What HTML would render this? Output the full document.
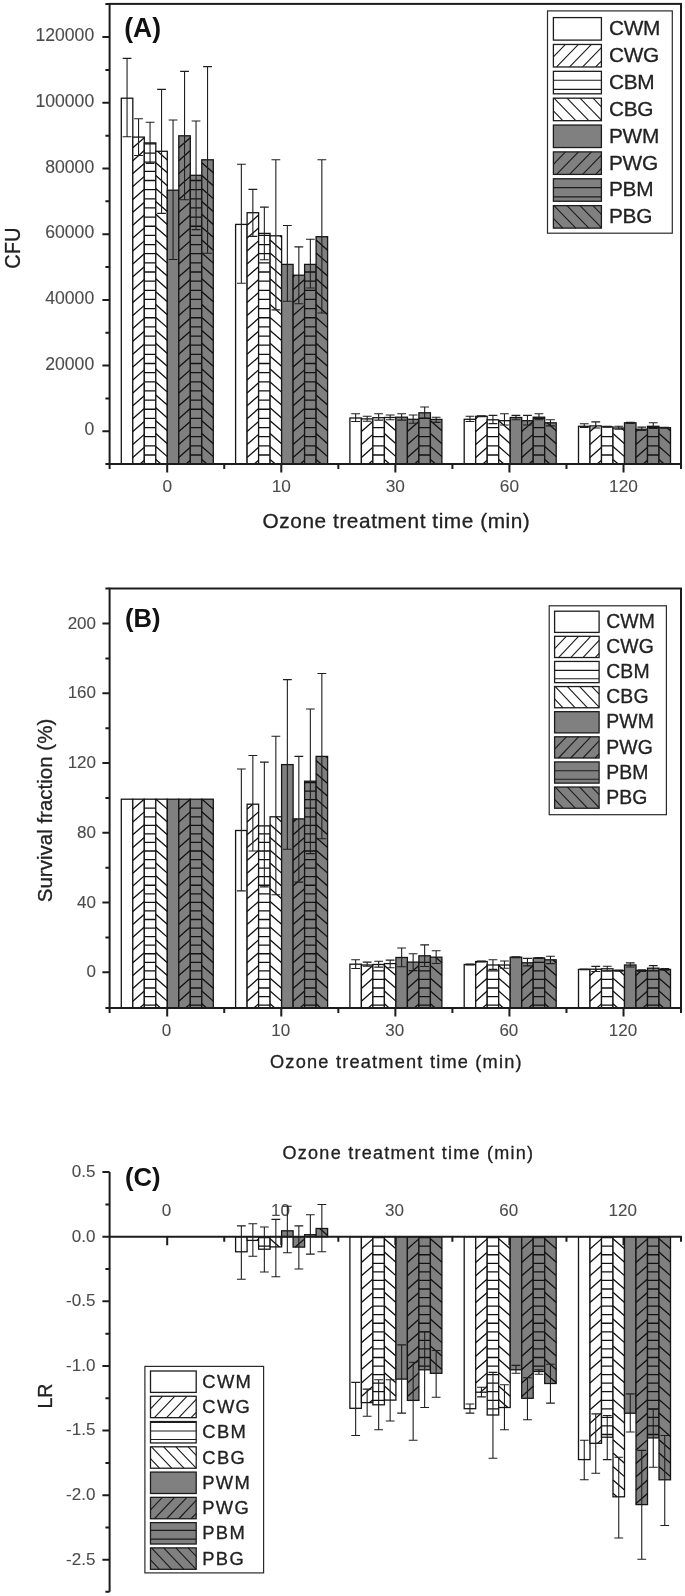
<!DOCTYPE html>
<html><head><meta charset="utf-8"><title>chart</title>
<style>html,body{margin:0;padding:0;background:#fff}svg{display:block;filter:blur(0.45px)}text{font-family:"Liberation Sans", sans-serif;stroke-linejoin:round}</style>
</head><body>
<svg width="685" height="1596" viewBox="0 0 685 1596">
<rect width="685" height="1596" fill="#fff"/>
<rect x="121.30" y="98.20" width="11.50" height="365.80" fill="#fff" stroke="#151515" stroke-width="1.3"/>
<rect x="132.80" y="137.10" width="11.50" height="326.90" fill="#fff" stroke="#151515" stroke-width="1.3"/>
<path d="M132.80 147.80L144.30 137.68M132.80 160.70L144.30 150.58M132.80 173.60L144.30 163.48M132.80 186.50L144.30 176.38M132.80 199.40L144.30 189.28M132.80 212.30L144.30 202.18M132.80 225.20L144.30 215.08M132.80 238.10L144.30 227.98M132.80 251.00L144.30 240.88M132.80 263.90L144.30 253.78M132.80 276.80L144.30 266.68M132.80 289.70L144.30 279.58M132.80 302.60L144.30 292.48M132.80 315.50L144.30 305.38M132.80 328.40L144.30 318.28M132.80 341.30L144.30 331.18M132.80 354.20L144.30 344.08M132.80 367.10L144.30 356.98M132.80 380.00L144.30 369.88M132.80 392.90L144.30 382.78M132.80 405.80L144.30 395.68M132.80 418.70L144.30 408.58M132.80 431.60L144.30 421.48M132.80 444.50L144.30 434.38M132.80 457.40L144.30 447.28M139.96 464.00L144.30 460.18" stroke="#111" stroke-width="1.3" fill="none"/>
<rect x="144.30" y="142.90" width="11.50" height="321.10" fill="#fff" stroke="#151515" stroke-width="1.3"/>
<path d="M144.30 143.90H155.80M144.30 153.05H155.80M144.30 162.20H155.80M144.30 171.35H155.80M144.30 180.50H155.80M144.30 189.65H155.80M144.30 198.80H155.80M144.30 207.95H155.80M144.30 217.10H155.80M144.30 226.25H155.80M144.30 235.40H155.80M144.30 244.55H155.80M144.30 253.70H155.80M144.30 262.85H155.80M144.30 272.00H155.80M144.30 281.15H155.80M144.30 290.30H155.80M144.30 299.45H155.80M144.30 308.60H155.80M144.30 317.75H155.80M144.30 326.90H155.80M144.30 336.05H155.80M144.30 345.20H155.80M144.30 354.35H155.80M144.30 363.50H155.80M144.30 372.65H155.80M144.30 381.80H155.80M144.30 390.95H155.80M144.30 400.10H155.80M144.30 409.25H155.80M144.30 418.40H155.80M144.30 427.55H155.80M144.30 436.70H155.80M144.30 445.85H155.80M144.30 455.00H155.80" stroke="#111" stroke-width="1.3" fill="none"/>
<rect x="155.80" y="151.30" width="11.50" height="312.70" fill="#fff" stroke="#151515" stroke-width="1.3"/>
<path d="M157.50 151.30L167.30 159.92M155.80 162.70L167.30 172.82M155.80 175.60L167.30 185.72M155.80 188.50L167.30 198.62M155.80 201.40L167.30 211.52M155.80 214.30L167.30 224.42M155.80 227.20L167.30 237.32M155.80 240.10L167.30 250.22M155.80 253.00L167.30 263.12M155.80 265.90L167.30 276.02M155.80 278.80L167.30 288.92M155.80 291.70L167.30 301.82M155.80 304.60L167.30 314.72M155.80 317.50L167.30 327.62M155.80 330.40L167.30 340.52M155.80 343.30L167.30 353.42M155.80 356.20L167.30 366.32M155.80 369.10L167.30 379.22M155.80 382.00L167.30 392.12M155.80 394.90L167.30 405.02M155.80 407.80L167.30 417.92M155.80 420.70L167.30 430.82M155.80 433.60L167.30 443.72M155.80 446.50L167.30 456.62M155.80 459.40L161.03 464.00" stroke="#111" stroke-width="1.3" fill="none"/>
<rect x="167.30" y="190.20" width="11.50" height="273.80" fill="#808080" stroke="#151515" stroke-width="1.3"/>
<rect x="178.80" y="135.80" width="11.50" height="328.20" fill="#808080" stroke="#151515" stroke-width="1.3"/>
<path d="M178.80 147.80L190.30 137.68M178.80 160.70L190.30 150.58M178.80 173.60L190.30 163.48M178.80 186.50L190.30 176.38M178.80 199.40L190.30 189.28M178.80 212.30L190.30 202.18M178.80 225.20L190.30 215.08M178.80 238.10L190.30 227.98M178.80 251.00L190.30 240.88M178.80 263.90L190.30 253.78M178.80 276.80L190.30 266.68M178.80 289.70L190.30 279.58M178.80 302.60L190.30 292.48M178.80 315.50L190.30 305.38M178.80 328.40L190.30 318.28M178.80 341.30L190.30 331.18M178.80 354.20L190.30 344.08M178.80 367.10L190.30 356.98M178.80 380.00L190.30 369.88M178.80 392.90L190.30 382.78M178.80 405.80L190.30 395.68M178.80 418.70L190.30 408.58M178.80 431.60L190.30 421.48M178.80 444.50L190.30 434.38M178.80 457.40L190.30 447.28M185.96 464.00L190.30 460.18" stroke="#111" stroke-width="1.3" fill="none"/>
<rect x="190.30" y="175.30" width="11.50" height="288.70" fill="#808080" stroke="#151515" stroke-width="1.3"/>
<path d="M190.30 180.50H201.80M190.30 189.65H201.80M190.30 198.80H201.80M190.30 207.95H201.80M190.30 217.10H201.80M190.30 226.25H201.80M190.30 235.40H201.80M190.30 244.55H201.80M190.30 253.70H201.80M190.30 262.85H201.80M190.30 272.00H201.80M190.30 281.15H201.80M190.30 290.30H201.80M190.30 299.45H201.80M190.30 308.60H201.80M190.30 317.75H201.80M190.30 326.90H201.80M190.30 336.05H201.80M190.30 345.20H201.80M190.30 354.35H201.80M190.30 363.50H201.80M190.30 372.65H201.80M190.30 381.80H201.80M190.30 390.95H201.80M190.30 400.10H201.80M190.30 409.25H201.80M190.30 418.40H201.80M190.30 427.55H201.80M190.30 436.70H201.80M190.30 445.85H201.80M190.30 455.00H201.80" stroke="#111" stroke-width="1.3" fill="none"/>
<rect x="201.80" y="159.80" width="11.50" height="304.20" fill="#808080" stroke="#151515" stroke-width="1.3"/>
<path d="M201.80 162.70L213.30 172.82M201.80 175.60L213.30 185.72M201.80 188.50L213.30 198.62M201.80 201.40L213.30 211.52M201.80 214.30L213.30 224.42M201.80 227.20L213.30 237.32M201.80 240.10L213.30 250.22M201.80 253.00L213.30 263.12M201.80 265.90L213.30 276.02M201.80 278.80L213.30 288.92M201.80 291.70L213.30 301.82M201.80 304.60L213.30 314.72M201.80 317.50L213.30 327.62M201.80 330.40L213.30 340.52M201.80 343.30L213.30 353.42M201.80 356.20L213.30 366.32M201.80 369.10L213.30 379.22M201.80 382.00L213.30 392.12M201.80 394.90L213.30 405.02M201.80 407.80L213.30 417.92M201.80 420.70L213.30 430.82M201.80 433.60L213.30 443.72M201.80 446.50L213.30 456.62M201.80 459.40L207.03 464.00" stroke="#111" stroke-width="1.3" fill="none"/>
<path d="M127.05 58.40V136.70M122.65 58.40h8.8M122.65 136.70h8.8" stroke="#1e1e1e" stroke-width="1.1" fill="none"/>
<path d="M138.55 118.70V155.50M134.15 118.70h8.8M134.15 155.50h8.8" stroke="#1e1e1e" stroke-width="1.1" fill="none"/>
<path d="M150.05 122.20V163.50M145.65 122.20h8.8M145.65 163.50h8.8" stroke="#1e1e1e" stroke-width="1.1" fill="none"/>
<path d="M161.55 89.40V213.40M157.15 89.40h8.8M157.15 213.40h8.8" stroke="#1e1e1e" stroke-width="1.1" fill="none"/>
<path d="M173.05 120.00V259.50M168.65 120.00h8.8M168.65 259.50h8.8" stroke="#1e1e1e" stroke-width="1.1" fill="none"/>
<path d="M184.55 71.40V199.80M180.15 71.40h8.8M180.15 199.80h8.8" stroke="#1e1e1e" stroke-width="1.1" fill="none"/>
<path d="M196.05 121.00V229.60M191.65 121.00h8.8M191.65 229.60h8.8" stroke="#1e1e1e" stroke-width="1.1" fill="none"/>
<path d="M207.55 66.60V253.20M203.15 66.60h8.8M203.15 253.20h8.8" stroke="#1e1e1e" stroke-width="1.1" fill="none"/>
<rect x="235.60" y="224.40" width="11.50" height="239.60" fill="#fff" stroke="#151515" stroke-width="1.3"/>
<rect x="247.10" y="212.70" width="11.50" height="251.30" fill="#fff" stroke="#151515" stroke-width="1.3"/>
<path d="M247.10 225.20L258.60 215.08M247.10 238.10L258.60 227.98M247.10 251.00L258.60 240.88M247.10 263.90L258.60 253.78M247.10 276.80L258.60 266.68M247.10 289.70L258.60 279.58M247.10 302.60L258.60 292.48M247.10 315.50L258.60 305.38M247.10 328.40L258.60 318.28M247.10 341.30L258.60 331.18M247.10 354.20L258.60 344.08M247.10 367.10L258.60 356.98M247.10 380.00L258.60 369.88M247.10 392.90L258.60 382.78M247.10 405.80L258.60 395.68M247.10 418.70L258.60 408.58M247.10 431.60L258.60 421.48M247.10 444.50L258.60 434.38M247.10 457.40L258.60 447.28M254.26 464.00L258.60 460.18" stroke="#111" stroke-width="1.3" fill="none"/>
<rect x="258.60" y="233.40" width="11.50" height="230.60" fill="#fff" stroke="#151515" stroke-width="1.3"/>
<path d="M258.60 235.40H270.10M258.60 244.55H270.10M258.60 253.70H270.10M258.60 262.85H270.10M258.60 272.00H270.10M258.60 281.15H270.10M258.60 290.30H270.10M258.60 299.45H270.10M258.60 308.60H270.10M258.60 317.75H270.10M258.60 326.90H270.10M258.60 336.05H270.10M258.60 345.20H270.10M258.60 354.35H270.10M258.60 363.50H270.10M258.60 372.65H270.10M258.60 381.80H270.10M258.60 390.95H270.10M258.60 400.10H270.10M258.60 409.25H270.10M258.60 418.40H270.10M258.60 427.55H270.10M258.60 436.70H270.10M258.60 445.85H270.10M258.60 455.00H270.10" stroke="#111" stroke-width="1.3" fill="none"/>
<rect x="270.10" y="235.80" width="11.50" height="228.20" fill="#fff" stroke="#151515" stroke-width="1.3"/>
<path d="M279.87 235.80L281.60 237.32M270.10 240.10L281.60 250.22M270.10 253.00L281.60 263.12M270.10 265.90L281.60 276.02M270.10 278.80L281.60 288.92M270.10 291.70L281.60 301.82M270.10 304.60L281.60 314.72M270.10 317.50L281.60 327.62M270.10 330.40L281.60 340.52M270.10 343.30L281.60 353.42M270.10 356.20L281.60 366.32M270.10 369.10L281.60 379.22M270.10 382.00L281.60 392.12M270.10 394.90L281.60 405.02M270.10 407.80L281.60 417.92M270.10 420.70L281.60 430.82M270.10 433.60L281.60 443.72M270.10 446.50L281.60 456.62M270.10 459.40L275.33 464.00" stroke="#111" stroke-width="1.3" fill="none"/>
<rect x="281.60" y="264.40" width="11.50" height="199.60" fill="#808080" stroke="#151515" stroke-width="1.3"/>
<rect x="293.10" y="275.20" width="11.50" height="188.80" fill="#808080" stroke="#151515" stroke-width="1.3"/>
<path d="M293.10 276.80L294.92 275.20M293.10 289.70L304.60 279.58M293.10 302.60L304.60 292.48M293.10 315.50L304.60 305.38M293.10 328.40L304.60 318.28M293.10 341.30L304.60 331.18M293.10 354.20L304.60 344.08M293.10 367.10L304.60 356.98M293.10 380.00L304.60 369.88M293.10 392.90L304.60 382.78M293.10 405.80L304.60 395.68M293.10 418.70L304.60 408.58M293.10 431.60L304.60 421.48M293.10 444.50L304.60 434.38M293.10 457.40L304.60 447.28M300.26 464.00L304.60 460.18" stroke="#111" stroke-width="1.3" fill="none"/>
<rect x="304.60" y="264.40" width="11.50" height="199.60" fill="#808080" stroke="#151515" stroke-width="1.3"/>
<path d="M304.60 272.00H316.10M304.60 281.15H316.10M304.60 290.30H316.10M304.60 299.45H316.10M304.60 308.60H316.10M304.60 317.75H316.10M304.60 326.90H316.10M304.60 336.05H316.10M304.60 345.20H316.10M304.60 354.35H316.10M304.60 363.50H316.10M304.60 372.65H316.10M304.60 381.80H316.10M304.60 390.95H316.10M304.60 400.10H316.10M304.60 409.25H316.10M304.60 418.40H316.10M304.60 427.55H316.10M304.60 436.70H316.10M304.60 445.85H316.10M304.60 455.00H316.10" stroke="#111" stroke-width="1.3" fill="none"/>
<rect x="316.10" y="236.70" width="11.50" height="227.30" fill="#808080" stroke="#151515" stroke-width="1.3"/>
<path d="M326.90 236.70L327.60 237.32M316.10 240.10L327.60 250.22M316.10 253.00L327.60 263.12M316.10 265.90L327.60 276.02M316.10 278.80L327.60 288.92M316.10 291.70L327.60 301.82M316.10 304.60L327.60 314.72M316.10 317.50L327.60 327.62M316.10 330.40L327.60 340.52M316.10 343.30L327.60 353.42M316.10 356.20L327.60 366.32M316.10 369.10L327.60 379.22M316.10 382.00L327.60 392.12M316.10 394.90L327.60 405.02M316.10 407.80L327.60 417.92M316.10 420.70L327.60 430.82M316.10 433.60L327.60 443.72M316.10 446.50L327.60 456.62M316.10 459.40L321.33 464.00" stroke="#111" stroke-width="1.3" fill="none"/>
<path d="M241.35 164.20V283.30M236.95 164.20h8.8M236.95 283.30h8.8" stroke="#1e1e1e" stroke-width="1.1" fill="none"/>
<path d="M252.85 189.40V236.40M248.45 189.40h8.8M248.45 236.40h8.8" stroke="#1e1e1e" stroke-width="1.1" fill="none"/>
<path d="M264.35 207.10V259.70M259.95 207.10h8.8M259.95 259.70h8.8" stroke="#1e1e1e" stroke-width="1.1" fill="none"/>
<path d="M275.85 159.80V309.90M271.45 159.80h8.8M271.45 309.90h8.8" stroke="#1e1e1e" stroke-width="1.1" fill="none"/>
<path d="M287.35 225.50V301.20M282.95 225.50h8.8M282.95 301.20h8.8" stroke="#1e1e1e" stroke-width="1.1" fill="none"/>
<path d="M298.85 246.90V303.80M294.45 246.90h8.8M294.45 303.80h8.8" stroke="#1e1e1e" stroke-width="1.1" fill="none"/>
<path d="M310.35 239.30V288.00M305.95 239.30h8.8M305.95 288.00h8.8" stroke="#1e1e1e" stroke-width="1.1" fill="none"/>
<path d="M321.85 159.80V313.00M317.45 159.80h8.8M317.45 313.00h8.8" stroke="#1e1e1e" stroke-width="1.1" fill="none"/>
<rect x="349.90" y="418.00" width="11.50" height="46.00" fill="#fff" stroke="#151515" stroke-width="1.3"/>
<rect x="361.40" y="418.90" width="11.50" height="45.10" fill="#fff" stroke="#151515" stroke-width="1.3"/>
<path d="M361.40 431.60L372.90 421.48M361.40 444.50L372.90 434.38M361.40 457.40L372.90 447.28M368.56 464.00L372.90 460.18" stroke="#111" stroke-width="1.3" fill="none"/>
<rect x="372.90" y="417.70" width="11.50" height="46.30" fill="#fff" stroke="#151515" stroke-width="1.3"/>
<path d="M372.90 427.55H384.40M372.90 436.70H384.40M372.90 445.85H384.40M372.90 455.00H384.40" stroke="#111" stroke-width="1.3" fill="none"/>
<rect x="384.40" y="417.50" width="11.50" height="46.50" fill="#fff" stroke="#151515" stroke-width="1.3"/>
<path d="M384.40 420.70L395.90 430.82M384.40 433.60L395.90 443.72M384.40 446.50L395.90 456.62M384.40 459.40L389.63 464.00" stroke="#111" stroke-width="1.3" fill="none"/>
<rect x="395.90" y="417.20" width="11.50" height="46.80" fill="#808080" stroke="#151515" stroke-width="1.3"/>
<rect x="407.40" y="419.30" width="11.50" height="44.70" fill="#808080" stroke="#151515" stroke-width="1.3"/>
<path d="M407.40 431.60L418.90 421.48M407.40 444.50L418.90 434.38M407.40 457.40L418.90 447.28M414.56 464.00L418.90 460.18" stroke="#111" stroke-width="1.3" fill="none"/>
<rect x="418.90" y="412.80" width="11.50" height="51.20" fill="#808080" stroke="#151515" stroke-width="1.3"/>
<path d="M418.90 418.40H430.40M418.90 427.55H430.40M418.90 436.70H430.40M418.90 445.85H430.40M418.90 455.00H430.40" stroke="#111" stroke-width="1.3" fill="none"/>
<rect x="430.40" y="419.40" width="11.50" height="44.60" fill="#808080" stroke="#151515" stroke-width="1.3"/>
<path d="M430.40 420.70L441.90 430.82M430.40 433.60L441.90 443.72M430.40 446.50L441.90 456.62M430.40 459.40L435.63 464.00" stroke="#111" stroke-width="1.3" fill="none"/>
<path d="M355.65 413.70V421.50M351.25 413.70h8.8M351.25 421.50h8.8" stroke="#1e1e1e" stroke-width="1.1" fill="none"/>
<path d="M367.15 416.30V421.20M362.75 416.30h8.8M362.75 421.20h8.8" stroke="#1e1e1e" stroke-width="1.1" fill="none"/>
<path d="M378.65 413.70V420.10M374.25 413.70h8.8M374.25 420.10h8.8" stroke="#1e1e1e" stroke-width="1.1" fill="none"/>
<path d="M390.15 415.00V419.80M385.75 415.00h8.8M385.75 419.80h8.8" stroke="#1e1e1e" stroke-width="1.1" fill="none"/>
<path d="M401.65 413.70V420.10M397.25 413.70h8.8M397.25 420.10h8.8" stroke="#1e1e1e" stroke-width="1.1" fill="none"/>
<path d="M413.15 415.00V423.30M408.75 415.00h8.8M408.75 423.30h8.8" stroke="#1e1e1e" stroke-width="1.1" fill="none"/>
<path d="M424.65 407.00V418.00M420.25 407.00h8.8M420.25 418.00h8.8" stroke="#1e1e1e" stroke-width="1.1" fill="none"/>
<path d="M436.15 417.20V422.40M431.75 417.20h8.8M431.75 422.40h8.8" stroke="#1e1e1e" stroke-width="1.1" fill="none"/>
<rect x="464.20" y="419.30" width="11.50" height="44.70" fill="#fff" stroke="#151515" stroke-width="1.3"/>
<rect x="475.70" y="416.30" width="11.50" height="47.70" fill="#fff" stroke="#151515" stroke-width="1.3"/>
<path d="M475.70 418.70L478.43 416.30M475.70 431.60L487.20 421.48M475.70 444.50L487.20 434.38M475.70 457.40L487.20 447.28M482.86 464.00L487.20 460.18" stroke="#111" stroke-width="1.3" fill="none"/>
<rect x="487.20" y="419.80" width="11.50" height="44.20" fill="#fff" stroke="#151515" stroke-width="1.3"/>
<path d="M487.20 427.55H498.70M487.20 436.70H498.70M487.20 445.85H498.70M487.20 455.00H498.70" stroke="#111" stroke-width="1.3" fill="none"/>
<rect x="498.70" y="420.70" width="11.50" height="43.30" fill="#fff" stroke="#151515" stroke-width="1.3"/>
<path d="M498.70 420.70L510.20 430.82M498.70 433.60L510.20 443.72M498.70 446.50L510.20 456.62M498.70 459.40L503.93 464.00" stroke="#111" stroke-width="1.3" fill="none"/>
<rect x="510.20" y="417.50" width="11.50" height="46.50" fill="#808080" stroke="#151515" stroke-width="1.3"/>
<rect x="521.70" y="420.70" width="11.50" height="43.30" fill="#808080" stroke="#151515" stroke-width="1.3"/>
<path d="M521.70 431.60L533.20 421.48M521.70 444.50L533.20 434.38M521.70 457.40L533.20 447.28M528.86 464.00L533.20 460.18" stroke="#111" stroke-width="1.3" fill="none"/>
<rect x="533.20" y="417.20" width="11.50" height="46.80" fill="#808080" stroke="#151515" stroke-width="1.3"/>
<path d="M533.20 418.40H544.70M533.20 427.55H544.70M533.20 436.70H544.70M533.20 445.85H544.70M533.20 455.00H544.70" stroke="#111" stroke-width="1.3" fill="none"/>
<rect x="544.70" y="422.80" width="11.50" height="41.20" fill="#808080" stroke="#151515" stroke-width="1.3"/>
<path d="M547.09 422.80L556.20 430.82M544.70 433.60L556.20 443.72M544.70 446.50L556.20 456.62M544.70 459.40L549.93 464.00" stroke="#111" stroke-width="1.3" fill="none"/>
<path d="M469.95 416.30V421.50M465.55 416.30h8.8M465.55 421.50h8.8" stroke="#1e1e1e" stroke-width="1.1" fill="none"/>
<path d="M481.45 415.90V416.70M477.05 415.90h8.8M477.05 416.70h8.8" stroke="#1e1e1e" stroke-width="1.1" fill="none"/>
<path d="M492.95 415.40V423.60M488.55 415.40h8.8M488.55 423.60h8.8" stroke="#1e1e1e" stroke-width="1.1" fill="none"/>
<path d="M504.45 413.70V425.00M500.05 413.70h8.8M500.05 425.00h8.8" stroke="#1e1e1e" stroke-width="1.1" fill="none"/>
<path d="M515.95 415.40V419.80M511.55 415.40h8.8M511.55 419.80h8.8" stroke="#1e1e1e" stroke-width="1.1" fill="none"/>
<path d="M527.45 415.40V425.00M523.05 415.40h8.8M523.05 425.00h8.8" stroke="#1e1e1e" stroke-width="1.1" fill="none"/>
<path d="M538.95 413.70V419.80M534.55 413.70h8.8M534.55 419.80h8.8" stroke="#1e1e1e" stroke-width="1.1" fill="none"/>
<path d="M550.45 419.80V425.90M546.05 419.80h8.8M546.05 425.90h8.8" stroke="#1e1e1e" stroke-width="1.1" fill="none"/>
<rect x="578.50" y="426.30" width="11.50" height="37.70" fill="#fff" stroke="#151515" stroke-width="1.3"/>
<rect x="590.00" y="425.90" width="11.50" height="38.10" fill="#fff" stroke="#151515" stroke-width="1.3"/>
<path d="M590.00 431.60L596.48 425.90M590.00 444.50L601.50 434.38M590.00 457.40L601.50 447.28M597.16 464.00L601.50 460.18" stroke="#111" stroke-width="1.3" fill="none"/>
<rect x="601.50" y="426.80" width="11.50" height="37.20" fill="#fff" stroke="#151515" stroke-width="1.3"/>
<path d="M601.50 436.70H613.00M601.50 445.85H613.00M601.50 455.00H613.00" stroke="#111" stroke-width="1.3" fill="none"/>
<rect x="613.00" y="428.00" width="11.50" height="36.00" fill="#fff" stroke="#151515" stroke-width="1.3"/>
<path d="M621.30 428.00L624.50 430.82M613.00 433.60L624.50 443.72M613.00 446.50L624.50 456.62M613.00 459.40L618.23 464.00" stroke="#111" stroke-width="1.3" fill="none"/>
<rect x="624.50" y="422.80" width="11.50" height="41.20" fill="#808080" stroke="#151515" stroke-width="1.3"/>
<rect x="636.00" y="429.20" width="11.50" height="34.80" fill="#808080" stroke="#151515" stroke-width="1.3"/>
<path d="M636.00 431.60L638.73 429.20M636.00 444.50L647.50 434.38M636.00 457.40L647.50 447.28M643.16 464.00L647.50 460.18" stroke="#111" stroke-width="1.3" fill="none"/>
<rect x="647.50" y="426.30" width="11.50" height="37.70" fill="#808080" stroke="#151515" stroke-width="1.3"/>
<path d="M647.50 427.55H659.00M647.50 436.70H659.00M647.50 445.85H659.00M647.50 455.00H659.00" stroke="#111" stroke-width="1.3" fill="none"/>
<rect x="659.00" y="427.70" width="11.50" height="36.30" fill="#808080" stroke="#151515" stroke-width="1.3"/>
<path d="M666.95 427.70L670.50 430.82M659.00 433.60L670.50 443.72M659.00 446.50L670.50 456.62M659.00 459.40L664.23 464.00" stroke="#111" stroke-width="1.3" fill="none"/>
<path d="M584.25 423.80V427.50M579.85 423.80h8.8M579.85 427.50h8.8" stroke="#1e1e1e" stroke-width="1.1" fill="none"/>
<path d="M595.75 421.90V428.00M591.35 421.90h8.8M591.35 428.00h8.8" stroke="#1e1e1e" stroke-width="1.1" fill="none"/>
<path d="M607.25 426.30V427.30M602.85 426.30h8.8M602.85 427.30h8.8" stroke="#1e1e1e" stroke-width="1.1" fill="none"/>
<path d="M618.75 426.30V429.30M614.35 426.30h8.8M614.35 429.30h8.8" stroke="#1e1e1e" stroke-width="1.1" fill="none"/>
<path d="M630.25 422.30V423.40M625.85 422.30h8.8M625.85 423.40h8.8" stroke="#1e1e1e" stroke-width="1.1" fill="none"/>
<path d="M641.75 427.10V430.50M637.35 427.10h8.8M637.35 430.50h8.8" stroke="#1e1e1e" stroke-width="1.1" fill="none"/>
<path d="M653.25 422.80V428.50M648.85 422.80h8.8M648.85 428.50h8.8" stroke="#1e1e1e" stroke-width="1.1" fill="none"/>
<path d="M664.75 427.20V428.20M660.35 427.20h8.8M660.35 428.20h8.8" stroke="#1e1e1e" stroke-width="1.1" fill="none"/>
<rect x="109.6" y="3.9" width="571.40" height="460.10" fill="none" stroke="#1c1c1c" stroke-width="2.0"/>
<path d="M109.6 431.30h-7.2M109.6 398.45h-4.2M109.6 365.60h-7.2M109.6 332.75h-4.2M109.6 299.90h-7.2M109.6 267.05h-4.2M109.6 234.20h-7.2M109.6 201.35h-4.2M109.6 168.50h-7.2M109.6 135.65h-4.2M109.6 102.80h-7.2M109.6 69.95h-4.2M109.6 37.10h-7.2M109.6 464.0h-4.2M109.6 3.9h-4.2" stroke="#1c1c1c" stroke-width="2.0" fill="none"/>
<text x="94.2" y="435.40" font-size="17.6" text-anchor="end" fill="#4c4c4c" stroke="#4c4c4c" stroke-width="0.1">0</text>
<text x="94.2" y="369.70" font-size="17.6" text-anchor="end" fill="#4c4c4c" stroke="#4c4c4c" stroke-width="0.1">20000</text>
<text x="94.2" y="304.00" font-size="17.6" text-anchor="end" fill="#4c4c4c" stroke="#4c4c4c" stroke-width="0.1">40000</text>
<text x="94.2" y="238.30" font-size="17.6" text-anchor="end" fill="#4c4c4c" stroke="#4c4c4c" stroke-width="0.1">60000</text>
<text x="94.2" y="172.60" font-size="17.6" text-anchor="end" fill="#4c4c4c" stroke="#4c4c4c" stroke-width="0.1">80000</text>
<text x="94.2" y="106.90" font-size="17.6" text-anchor="end" fill="#4c4c4c" stroke="#4c4c4c" stroke-width="0.1">100000</text>
<text x="94.2" y="41.20" font-size="17.6" text-anchor="end" fill="#4c4c4c" stroke="#4c4c4c" stroke-width="0.1">120000</text>
<path d="M167.20 464.0v8.6M224.24 464.0v5M281.28 464.0v8.6M338.32 464.0v5M395.36 464.0v8.6M452.40 464.0v5M509.44 464.0v8.6M566.48 464.0v5M623.52 464.0v8.6M109.6 464.0v5M681.0 464.0v5" stroke="#1c1c1c" stroke-width="2.0" fill="none"/>
<text x="167.20" y="492.40" font-size="17.3" text-anchor="middle" fill="#4c4c4c" stroke="#4c4c4c" stroke-width="0.1">0</text>
<text x="281.28" y="492.40" font-size="17.3" text-anchor="middle" fill="#4c4c4c" stroke="#4c4c4c" stroke-width="0.1">10</text>
<text x="395.36" y="492.40" font-size="17.3" text-anchor="middle" fill="#4c4c4c" stroke="#4c4c4c" stroke-width="0.1">30</text>
<text x="509.44" y="492.40" font-size="17.3" text-anchor="middle" fill="#4c4c4c" stroke="#4c4c4c" stroke-width="0.1">60</text>
<text x="623.52" y="492.40" font-size="17.3" text-anchor="middle" fill="#4c4c4c" stroke="#4c4c4c" stroke-width="0.1">120</text>
<text x="262.6" y="527.6" font-size="20.8" textLength="267.2" lengthAdjust="spacing" fill="#222" stroke="#222" stroke-width="0.3">Ozone treatment time (min)</text>
<text transform="translate(20.1 248.2) rotate(-90)" font-size="21.6" textLength="41.2" lengthAdjust="spacingAndGlyphs" text-anchor="middle" fill="#222" stroke="#222" stroke-width="0.3">CFU</text>
<text x="124.2" y="37.4" font-size="28.2" font-weight="bold" textLength="36.8" lengthAdjust="spacingAndGlyphs" fill="#111">(A)</text>
<rect x="547.5" y="10.9" width="124.80" height="222.30" fill="#fff" stroke="#2a2a2a" stroke-width="1.2"/>
<rect x="553.4" y="17.60" width="48.00" height="22.5" fill="#fff" stroke="#1c1c1c" stroke-width="1.3"/>
<text x="609.0" y="35.30" font-size="20.8" letter-spacing="-0.3" fill="#222" stroke="#222" stroke-width="0.3">CWM</text>
<rect x="553.4" y="44.46" width="48.00" height="22.5" fill="#fff" stroke="#1c1c1c" stroke-width="1.3"/>
<path d="M553.40 56.86L565.44 44.46M556.60 66.96L578.45 44.46M569.61 66.96L591.46 44.46M582.62 66.96L601.40 47.62M595.63 66.96L601.40 61.02" stroke="#1c1c1c" stroke-width="1.1" fill="none"/>
<text x="609.0" y="62.16" font-size="20.8" letter-spacing="-0.3" fill="#222" stroke="#222" stroke-width="0.3">CWG</text>
<rect x="553.4" y="71.32" width="48.00" height="22.5" fill="#fff" stroke="#1c1c1c" stroke-width="1.3"/>
<path d="M553.40 80.22H601.40M553.40 89.42H601.40" stroke="#1c1c1c" stroke-width="1.1" fill="none"/>
<text x="609.0" y="89.02" font-size="20.8" letter-spacing="-0.3" fill="#222" stroke="#222" stroke-width="0.3">CBM</text>
<rect x="553.4" y="98.18" width="48.00" height="22.5" fill="#fff" stroke="#1c1c1c" stroke-width="1.3"/>
<path d="M593.01 98.18L601.40 106.82M580.00 98.18L601.40 120.22M566.99 98.18L588.84 120.68M553.98 98.18L575.83 120.68M553.40 110.98L562.82 120.68" stroke="#1c1c1c" stroke-width="1.1" fill="none"/>
<text x="609.0" y="115.88" font-size="20.8" letter-spacing="-0.3" fill="#222" stroke="#222" stroke-width="0.3">CBG</text>
<rect x="553.4" y="125.04" width="48.00" height="22.5" fill="#808080" stroke="#1c1c1c" stroke-width="1.3"/>
<text x="609.0" y="142.74" font-size="20.8" letter-spacing="-0.3" fill="#222" stroke="#222" stroke-width="0.3">PWM</text>
<rect x="553.4" y="151.90" width="48.00" height="22.5" fill="#808080" stroke="#1c1c1c" stroke-width="1.3"/>
<path d="M553.40 164.30L565.44 151.90M556.60 174.40L578.45 151.90M569.61 174.40L591.46 151.90M582.62 174.40L601.40 155.06M595.63 174.40L601.40 168.46" stroke="#1c1c1c" stroke-width="1.1" fill="none"/>
<text x="609.0" y="169.60" font-size="20.8" letter-spacing="-0.3" fill="#222" stroke="#222" stroke-width="0.3">PWG</text>
<rect x="553.4" y="178.76" width="48.00" height="22.5" fill="#808080" stroke="#1c1c1c" stroke-width="1.3"/>
<path d="M553.40 187.66H601.40M553.40 196.86H601.40" stroke="#1c1c1c" stroke-width="1.1" fill="none"/>
<text x="609.0" y="196.46" font-size="20.8" letter-spacing="-0.3" fill="#222" stroke="#222" stroke-width="0.3">PBM</text>
<rect x="553.4" y="205.62" width="48.00" height="22.5" fill="#808080" stroke="#1c1c1c" stroke-width="1.3"/>
<path d="M593.01 205.62L601.40 214.26M580.00 205.62L601.40 227.66M566.99 205.62L588.84 228.12M553.98 205.62L575.83 228.12M553.40 218.42L562.82 228.12" stroke="#1c1c1c" stroke-width="1.1" fill="none"/>
<text x="609.0" y="223.32" font-size="20.8" letter-spacing="-0.3" fill="#222" stroke="#222" stroke-width="0.3">PBG</text>
<rect x="121.30" y="799.20" width="11.50" height="208.80" fill="#fff" stroke="#151515" stroke-width="1.3"/>
<rect x="132.80" y="799.20" width="11.50" height="208.80" fill="#fff" stroke="#151515" stroke-width="1.3"/>
<path d="M132.80 809.20L144.16 799.20M132.80 822.00L144.30 811.88M132.80 834.80L144.30 824.68M132.80 847.60L144.30 837.48M132.80 860.40L144.30 850.28M132.80 873.20L144.30 863.08M132.80 886.00L144.30 875.88M132.80 898.80L144.30 888.68M132.80 911.60L144.30 901.48M132.80 924.40L144.30 914.28M132.80 937.20L144.30 927.08M132.80 950.00L144.30 939.88M132.80 962.80L144.30 952.68M132.80 975.60L144.30 965.48M132.80 988.40L144.30 978.28M132.80 1001.20L144.30 991.08M139.62 1008.00L144.30 1003.88" stroke="#111" stroke-width="1.3" fill="none"/>
<rect x="144.30" y="799.20" width="11.50" height="208.80" fill="#fff" stroke="#151515" stroke-width="1.3"/>
<path d="M144.30 808.22H155.80M144.30 816.78H155.80M144.30 825.34H155.80M144.30 833.90H155.80M144.30 842.46H155.80M144.30 851.02H155.80M144.30 859.58H155.80M144.30 868.14H155.80M144.30 876.70H155.80M144.30 885.26H155.80M144.30 893.82H155.80M144.30 902.38H155.80M144.30 910.94H155.80M144.30 919.50H155.80M144.30 928.06H155.80M144.30 936.62H155.80M144.30 945.18H155.80M144.30 953.74H155.80M144.30 962.30H155.80M144.30 970.86H155.80M144.30 979.42H155.80M144.30 987.98H155.80M144.30 996.54H155.80M144.30 1005.10H155.80" stroke="#111" stroke-width="1.3" fill="none"/>
<rect x="155.80" y="799.20" width="11.50" height="208.80" fill="#fff" stroke="#151515" stroke-width="1.3"/>
<path d="M156.03 799.20L167.30 809.12M155.80 811.80L167.30 821.92M155.80 824.60L167.30 834.72M155.80 837.40L167.30 847.52M155.80 850.20L167.30 860.32M155.80 863.00L167.30 873.12M155.80 875.80L167.30 885.92M155.80 888.60L167.30 898.72M155.80 901.40L167.30 911.52M155.80 914.20L167.30 924.32M155.80 927.00L167.30 937.12M155.80 939.80L167.30 949.92M155.80 952.60L167.30 962.72M155.80 965.40L167.30 975.52M155.80 978.20L167.30 988.32M155.80 991.00L167.30 1001.12M155.80 1003.80L160.57 1008.00" stroke="#111" stroke-width="1.3" fill="none"/>
<rect x="167.30" y="799.20" width="11.50" height="208.80" fill="#808080" stroke="#151515" stroke-width="1.3"/>
<rect x="178.80" y="799.20" width="11.50" height="208.80" fill="#808080" stroke="#151515" stroke-width="1.3"/>
<path d="M178.80 809.20L190.16 799.20M178.80 822.00L190.30 811.88M178.80 834.80L190.30 824.68M178.80 847.60L190.30 837.48M178.80 860.40L190.30 850.28M178.80 873.20L190.30 863.08M178.80 886.00L190.30 875.88M178.80 898.80L190.30 888.68M178.80 911.60L190.30 901.48M178.80 924.40L190.30 914.28M178.80 937.20L190.30 927.08M178.80 950.00L190.30 939.88M178.80 962.80L190.30 952.68M178.80 975.60L190.30 965.48M178.80 988.40L190.30 978.28M178.80 1001.20L190.30 991.08M185.62 1008.00L190.30 1003.88" stroke="#111" stroke-width="1.3" fill="none"/>
<rect x="190.30" y="799.20" width="11.50" height="208.80" fill="#808080" stroke="#151515" stroke-width="1.3"/>
<path d="M190.30 808.22H201.80M190.30 816.78H201.80M190.30 825.34H201.80M190.30 833.90H201.80M190.30 842.46H201.80M190.30 851.02H201.80M190.30 859.58H201.80M190.30 868.14H201.80M190.30 876.70H201.80M190.30 885.26H201.80M190.30 893.82H201.80M190.30 902.38H201.80M190.30 910.94H201.80M190.30 919.50H201.80M190.30 928.06H201.80M190.30 936.62H201.80M190.30 945.18H201.80M190.30 953.74H201.80M190.30 962.30H201.80M190.30 970.86H201.80M190.30 979.42H201.80M190.30 987.98H201.80M190.30 996.54H201.80M190.30 1005.10H201.80" stroke="#111" stroke-width="1.3" fill="none"/>
<rect x="201.80" y="799.20" width="11.50" height="208.80" fill="#808080" stroke="#151515" stroke-width="1.3"/>
<path d="M202.03 799.20L213.30 809.12M201.80 811.80L213.30 821.92M201.80 824.60L213.30 834.72M201.80 837.40L213.30 847.52M201.80 850.20L213.30 860.32M201.80 863.00L213.30 873.12M201.80 875.80L213.30 885.92M201.80 888.60L213.30 898.72M201.80 901.40L213.30 911.52M201.80 914.20L213.30 924.32M201.80 927.00L213.30 937.12M201.80 939.80L213.30 949.92M201.80 952.60L213.30 962.72M201.80 965.40L213.30 975.52M201.80 978.20L213.30 988.32M201.80 991.00L213.30 1001.12M201.80 1003.80L206.57 1008.00" stroke="#111" stroke-width="1.3" fill="none"/>
<rect x="235.60" y="830.50" width="11.50" height="177.50" fill="#fff" stroke="#151515" stroke-width="1.3"/>
<rect x="247.10" y="804.20" width="11.50" height="203.80" fill="#fff" stroke="#151515" stroke-width="1.3"/>
<path d="M247.10 809.20L252.78 804.20M247.10 822.00L258.60 811.88M247.10 834.80L258.60 824.68M247.10 847.60L258.60 837.48M247.10 860.40L258.60 850.28M247.10 873.20L258.60 863.08M247.10 886.00L258.60 875.88M247.10 898.80L258.60 888.68M247.10 911.60L258.60 901.48M247.10 924.40L258.60 914.28M247.10 937.20L258.60 927.08M247.10 950.00L258.60 939.88M247.10 962.80L258.60 952.68M247.10 975.60L258.60 965.48M247.10 988.40L258.60 978.28M247.10 1001.20L258.60 991.08M253.92 1008.00L258.60 1003.88" stroke="#111" stroke-width="1.3" fill="none"/>
<rect x="258.60" y="825.90" width="11.50" height="182.10" fill="#fff" stroke="#151515" stroke-width="1.3"/>
<path d="M258.60 833.90H270.10M258.60 842.46H270.10M258.60 851.02H270.10M258.60 859.58H270.10M258.60 868.14H270.10M258.60 876.70H270.10M258.60 885.26H270.10M258.60 893.82H270.10M258.60 902.38H270.10M258.60 910.94H270.10M258.60 919.50H270.10M258.60 928.06H270.10M258.60 936.62H270.10M258.60 945.18H270.10M258.60 953.74H270.10M258.60 962.30H270.10M258.60 970.86H270.10M258.60 979.42H270.10M258.60 987.98H270.10M258.60 996.54H270.10M258.60 1005.10H270.10" stroke="#111" stroke-width="1.3" fill="none"/>
<rect x="270.10" y="816.80" width="11.50" height="191.20" fill="#fff" stroke="#151515" stroke-width="1.3"/>
<path d="M275.78 816.80L281.60 821.92M270.10 824.60L281.60 834.72M270.10 837.40L281.60 847.52M270.10 850.20L281.60 860.32M270.10 863.00L281.60 873.12M270.10 875.80L281.60 885.92M270.10 888.60L281.60 898.72M270.10 901.40L281.60 911.52M270.10 914.20L281.60 924.32M270.10 927.00L281.60 937.12M270.10 939.80L281.60 949.92M270.10 952.60L281.60 962.72M270.10 965.40L281.60 975.52M270.10 978.20L281.60 988.32M270.10 991.00L281.60 1001.12M270.10 1003.80L274.87 1008.00" stroke="#111" stroke-width="1.3" fill="none"/>
<rect x="281.60" y="764.60" width="11.50" height="243.40" fill="#808080" stroke="#151515" stroke-width="1.3"/>
<rect x="293.10" y="818.90" width="11.50" height="189.10" fill="#808080" stroke="#151515" stroke-width="1.3"/>
<path d="M293.10 822.00L296.62 818.90M293.10 834.80L304.60 824.68M293.10 847.60L304.60 837.48M293.10 860.40L304.60 850.28M293.10 873.20L304.60 863.08M293.10 886.00L304.60 875.88M293.10 898.80L304.60 888.68M293.10 911.60L304.60 901.48M293.10 924.40L304.60 914.28M293.10 937.20L304.60 927.08M293.10 950.00L304.60 939.88M293.10 962.80L304.60 952.68M293.10 975.60L304.60 965.48M293.10 988.40L304.60 978.28M293.10 1001.20L304.60 991.08M299.92 1008.00L304.60 1003.88" stroke="#111" stroke-width="1.3" fill="none"/>
<rect x="304.60" y="781.20" width="11.50" height="226.80" fill="#808080" stroke="#151515" stroke-width="1.3"/>
<path d="M304.60 782.54H316.10M304.60 791.10H316.10M304.60 799.66H316.10M304.60 808.22H316.10M304.60 816.78H316.10M304.60 825.34H316.10M304.60 833.90H316.10M304.60 842.46H316.10M304.60 851.02H316.10M304.60 859.58H316.10M304.60 868.14H316.10M304.60 876.70H316.10M304.60 885.26H316.10M304.60 893.82H316.10M304.60 902.38H316.10M304.60 910.94H316.10M304.60 919.50H316.10M304.60 928.06H316.10M304.60 936.62H316.10M304.60 945.18H316.10M304.60 953.74H316.10M304.60 962.30H316.10M304.60 970.86H316.10M304.60 979.42H316.10M304.60 987.98H316.10M304.60 996.54H316.10M304.60 1005.10H316.10" stroke="#111" stroke-width="1.3" fill="none"/>
<rect x="316.10" y="756.40" width="11.50" height="251.60" fill="#808080" stroke="#151515" stroke-width="1.3"/>
<path d="M325.87 756.40L327.60 757.92M316.10 760.60L327.60 770.72M316.10 773.40L327.60 783.52M316.10 786.20L327.60 796.32M316.10 799.00L327.60 809.12M316.10 811.80L327.60 821.92M316.10 824.60L327.60 834.72M316.10 837.40L327.60 847.52M316.10 850.20L327.60 860.32M316.10 863.00L327.60 873.12M316.10 875.80L327.60 885.92M316.10 888.60L327.60 898.72M316.10 901.40L327.60 911.52M316.10 914.20L327.60 924.32M316.10 927.00L327.60 937.12M316.10 939.80L327.60 949.92M316.10 952.60L327.60 962.72M316.10 965.40L327.60 975.52M316.10 978.20L327.60 988.32M316.10 991.00L327.60 1001.12M316.10 1003.80L320.87 1008.00" stroke="#111" stroke-width="1.3" fill="none"/>
<path d="M241.35 769.00V890.90M236.95 769.00h8.8M236.95 890.90h8.8" stroke="#1e1e1e" stroke-width="1.1" fill="none"/>
<path d="M252.85 755.50V851.00M248.45 755.50h8.8M248.45 851.00h8.8" stroke="#1e1e1e" stroke-width="1.1" fill="none"/>
<path d="M264.35 762.10V886.90M259.95 762.10h8.8M259.95 886.90h8.8" stroke="#1e1e1e" stroke-width="1.1" fill="none"/>
<path d="M275.85 736.20V894.80M271.45 736.20h8.8M271.45 894.80h8.8" stroke="#1e1e1e" stroke-width="1.1" fill="none"/>
<path d="M287.35 679.60V849.20M282.95 679.60h8.8M282.95 849.20h8.8" stroke="#1e1e1e" stroke-width="1.1" fill="none"/>
<path d="M298.85 756.40V882.10M294.45 756.40h8.8M294.45 882.10h8.8" stroke="#1e1e1e" stroke-width="1.1" fill="none"/>
<path d="M310.35 709.00V853.60M305.95 709.00h8.8M305.95 853.60h8.8" stroke="#1e1e1e" stroke-width="1.1" fill="none"/>
<path d="M321.85 673.50V838.70M317.45 673.50h8.8M317.45 838.70h8.8" stroke="#1e1e1e" stroke-width="1.1" fill="none"/>
<rect x="349.90" y="964.20" width="11.50" height="43.80" fill="#fff" stroke="#151515" stroke-width="1.3"/>
<rect x="361.40" y="965.00" width="11.50" height="43.00" fill="#fff" stroke="#151515" stroke-width="1.3"/>
<path d="M361.40 975.60L372.90 965.48M361.40 988.40L372.90 978.28M361.40 1001.20L372.90 991.08M368.22 1008.00L372.90 1003.88" stroke="#111" stroke-width="1.3" fill="none"/>
<rect x="372.90" y="964.50" width="11.50" height="43.50" fill="#fff" stroke="#151515" stroke-width="1.3"/>
<path d="M372.90 970.86H384.40M372.90 979.42H384.40M372.90 987.98H384.40M372.90 996.54H384.40M372.90 1005.10H384.40" stroke="#111" stroke-width="1.3" fill="none"/>
<rect x="384.40" y="963.60" width="11.50" height="44.40" fill="#fff" stroke="#151515" stroke-width="1.3"/>
<path d="M384.40 965.40L395.90 975.52M384.40 978.20L395.90 988.32M384.40 991.00L395.90 1001.12M384.40 1003.80L389.17 1008.00" stroke="#111" stroke-width="1.3" fill="none"/>
<rect x="395.90" y="957.50" width="11.50" height="50.50" fill="#808080" stroke="#151515" stroke-width="1.3"/>
<rect x="407.40" y="962.10" width="11.50" height="45.90" fill="#808080" stroke="#151515" stroke-width="1.3"/>
<path d="M407.40 962.80L408.20 962.10M407.40 975.60L418.90 965.48M407.40 988.40L418.90 978.28M407.40 1001.20L418.90 991.08M414.22 1008.00L418.90 1003.88" stroke="#111" stroke-width="1.3" fill="none"/>
<rect x="418.90" y="955.80" width="11.50" height="52.20" fill="#808080" stroke="#151515" stroke-width="1.3"/>
<path d="M418.90 962.30H430.40M418.90 970.86H430.40M418.90 979.42H430.40M418.90 987.98H430.40M418.90 996.54H430.40M418.90 1005.10H430.40" stroke="#111" stroke-width="1.3" fill="none"/>
<rect x="430.40" y="957.20" width="11.50" height="50.80" fill="#808080" stroke="#151515" stroke-width="1.3"/>
<path d="M435.63 957.20L441.90 962.72M430.40 965.40L441.90 975.52M430.40 978.20L441.90 988.32M430.40 991.00L441.90 1001.12M430.40 1003.80L435.17 1008.00" stroke="#111" stroke-width="1.3" fill="none"/>
<path d="M355.65 959.80V968.50M351.25 959.80h8.8M351.25 968.50h8.8" stroke="#1e1e1e" stroke-width="1.1" fill="none"/>
<path d="M367.15 962.10V966.30M362.75 962.10h8.8M362.75 966.30h8.8" stroke="#1e1e1e" stroke-width="1.1" fill="none"/>
<path d="M378.65 961.20V967.10M374.25 961.20h8.8M374.25 967.10h8.8" stroke="#1e1e1e" stroke-width="1.1" fill="none"/>
<path d="M390.15 960.10V967.70M385.75 960.10h8.8M385.75 967.70h8.8" stroke="#1e1e1e" stroke-width="1.1" fill="none"/>
<path d="M401.65 948.00V966.80M397.25 948.00h8.8M397.25 966.80h8.8" stroke="#1e1e1e" stroke-width="1.1" fill="none"/>
<path d="M413.15 953.70V970.60M408.75 953.70h8.8M408.75 970.60h8.8" stroke="#1e1e1e" stroke-width="1.1" fill="none"/>
<path d="M424.65 944.90V966.50M420.25 944.90h8.8M420.25 966.50h8.8" stroke="#1e1e1e" stroke-width="1.1" fill="none"/>
<path d="M436.15 950.70V963.50M431.75 950.70h8.8M431.75 963.50h8.8" stroke="#1e1e1e" stroke-width="1.1" fill="none"/>
<rect x="464.20" y="964.50" width="11.50" height="43.50" fill="#fff" stroke="#151515" stroke-width="1.3"/>
<rect x="475.70" y="961.50" width="11.50" height="46.50" fill="#fff" stroke="#151515" stroke-width="1.3"/>
<path d="M475.70 962.80L477.18 961.50M475.70 975.60L487.20 965.48M475.70 988.40L487.20 978.28M475.70 1001.20L487.20 991.08M482.52 1008.00L487.20 1003.88" stroke="#111" stroke-width="1.3" fill="none"/>
<rect x="487.20" y="965.00" width="11.50" height="43.00" fill="#fff" stroke="#151515" stroke-width="1.3"/>
<path d="M487.20 970.86H498.70M487.20 979.42H498.70M487.20 987.98H498.70M487.20 996.54H498.70M487.20 1005.10H498.70" stroke="#111" stroke-width="1.3" fill="none"/>
<rect x="498.70" y="965.00" width="11.50" height="43.00" fill="#fff" stroke="#151515" stroke-width="1.3"/>
<path d="M498.70 965.40L510.20 975.52M498.70 978.20L510.20 988.32M498.70 991.00L510.20 1001.12M498.70 1003.80L503.47 1008.00" stroke="#111" stroke-width="1.3" fill="none"/>
<rect x="510.20" y="957.20" width="11.50" height="50.80" fill="#808080" stroke="#151515" stroke-width="1.3"/>
<rect x="521.70" y="962.80" width="11.50" height="45.20" fill="#808080" stroke="#151515" stroke-width="1.3"/>
<path d="M521.70 975.60L533.20 965.48M521.70 988.40L533.20 978.28M521.70 1001.20L533.20 991.08M528.52 1008.00L533.20 1003.88" stroke="#111" stroke-width="1.3" fill="none"/>
<rect x="533.20" y="958.00" width="11.50" height="50.00" fill="#808080" stroke="#151515" stroke-width="1.3"/>
<path d="M533.20 962.30H544.70M533.20 970.86H544.70M533.20 979.42H544.70M533.20 987.98H544.70M533.20 996.54H544.70M533.20 1005.10H544.70" stroke="#111" stroke-width="1.3" fill="none"/>
<rect x="544.70" y="959.80" width="11.50" height="48.20" fill="#808080" stroke="#151515" stroke-width="1.3"/>
<path d="M552.88 959.80L556.20 962.72M544.70 965.40L556.20 975.52M544.70 978.20L556.20 988.32M544.70 991.00L556.20 1001.12M544.70 1003.80L549.47 1008.00" stroke="#111" stroke-width="1.3" fill="none"/>
<path d="M469.95 964.10V964.90M465.55 964.10h8.8M465.55 964.90h8.8" stroke="#1e1e1e" stroke-width="1.1" fill="none"/>
<path d="M481.45 961.00V962.00M477.05 961.00h8.8M477.05 962.00h8.8" stroke="#1e1e1e" stroke-width="1.1" fill="none"/>
<path d="M492.95 959.80V969.40M488.55 959.80h8.8M488.55 969.40h8.8" stroke="#1e1e1e" stroke-width="1.1" fill="none"/>
<path d="M504.45 961.00V968.20M500.05 961.00h8.8M500.05 968.20h8.8" stroke="#1e1e1e" stroke-width="1.1" fill="none"/>
<path d="M515.95 956.80V957.60M511.55 956.80h8.8M511.55 957.60h8.8" stroke="#1e1e1e" stroke-width="1.1" fill="none"/>
<path d="M527.45 958.40V965.90M523.05 958.40h8.8M523.05 965.90h8.8" stroke="#1e1e1e" stroke-width="1.1" fill="none"/>
<path d="M538.95 957.60V958.40M534.55 957.60h8.8M534.55 958.40h8.8" stroke="#1e1e1e" stroke-width="1.1" fill="none"/>
<path d="M550.45 956.30V963.60M546.05 956.30h8.8M546.05 963.60h8.8" stroke="#1e1e1e" stroke-width="1.1" fill="none"/>
<rect x="578.50" y="969.40" width="11.50" height="38.60" fill="#fff" stroke="#151515" stroke-width="1.3"/>
<rect x="590.00" y="969.20" width="11.50" height="38.80" fill="#fff" stroke="#151515" stroke-width="1.3"/>
<path d="M590.00 975.60L597.27 969.20M590.00 988.40L601.50 978.28M590.00 1001.20L601.50 991.08M596.82 1008.00L601.50 1003.88" stroke="#111" stroke-width="1.3" fill="none"/>
<rect x="601.50" y="968.80" width="11.50" height="39.20" fill="#fff" stroke="#151515" stroke-width="1.3"/>
<path d="M601.50 970.86H613.00M601.50 979.42H613.00M601.50 987.98H613.00M601.50 996.54H613.00M601.50 1005.10H613.00" stroke="#111" stroke-width="1.3" fill="none"/>
<rect x="613.00" y="970.60" width="11.50" height="37.40" fill="#fff" stroke="#151515" stroke-width="1.3"/>
<path d="M618.91 970.60L624.50 975.52M613.00 978.20L624.50 988.32M613.00 991.00L624.50 1001.12M613.00 1003.80L617.77 1008.00" stroke="#111" stroke-width="1.3" fill="none"/>
<rect x="624.50" y="965.00" width="11.50" height="43.00" fill="#808080" stroke="#151515" stroke-width="1.3"/>
<rect x="636.00" y="970.60" width="11.50" height="37.40" fill="#808080" stroke="#151515" stroke-width="1.3"/>
<path d="M636.00 975.60L641.68 970.60M636.00 988.40L647.50 978.28M636.00 1001.20L647.50 991.08M642.82 1008.00L647.50 1003.88" stroke="#111" stroke-width="1.3" fill="none"/>
<rect x="647.50" y="968.20" width="11.50" height="39.80" fill="#808080" stroke="#151515" stroke-width="1.3"/>
<path d="M647.50 970.86H659.00M647.50 979.42H659.00M647.50 987.98H659.00M647.50 996.54H659.00M647.50 1005.10H659.00" stroke="#111" stroke-width="1.3" fill="none"/>
<rect x="659.00" y="969.40" width="11.50" height="38.60" fill="#808080" stroke="#151515" stroke-width="1.3"/>
<path d="M663.55 969.40L670.50 975.52M659.00 978.20L670.50 988.32M659.00 991.00L670.50 1001.12M659.00 1003.80L663.77 1008.00" stroke="#111" stroke-width="1.3" fill="none"/>
<path d="M584.25 969.00V969.80M579.85 969.00h8.8M579.85 969.80h8.8" stroke="#1e1e1e" stroke-width="1.1" fill="none"/>
<path d="M595.75 966.40V971.50M591.35 966.40h8.8M591.35 971.50h8.8" stroke="#1e1e1e" stroke-width="1.1" fill="none"/>
<path d="M607.25 966.30V971.00M602.85 966.30h8.8M602.85 971.00h8.8" stroke="#1e1e1e" stroke-width="1.1" fill="none"/>
<path d="M618.75 970.00V971.20M614.35 970.00h8.8M614.35 971.20h8.8" stroke="#1e1e1e" stroke-width="1.1" fill="none"/>
<path d="M630.25 962.90V967.00M625.85 962.90h8.8M625.85 967.00h8.8" stroke="#1e1e1e" stroke-width="1.1" fill="none"/>
<path d="M641.75 969.80V971.40M637.35 969.80h8.8M637.35 971.40h8.8" stroke="#1e1e1e" stroke-width="1.1" fill="none"/>
<path d="M653.25 965.60V970.50M648.85 965.60h8.8M648.85 970.50h8.8" stroke="#1e1e1e" stroke-width="1.1" fill="none"/>
<path d="M664.75 968.50V970.30M660.35 968.50h8.8M660.35 970.30h8.8" stroke="#1e1e1e" stroke-width="1.1" fill="none"/>
<rect x="109.6" y="588.5" width="571.40" height="419.50" fill="none" stroke="#1c1c1c" stroke-width="2.0"/>
<path d="M109.6 1008.00h-4.2M109.6 972.30h-7.2M109.6 937.42h-4.2M109.6 902.54h-7.2M109.6 867.66h-4.2M109.6 832.78h-7.2M109.6 797.90h-4.2M109.6 763.02h-7.2M109.6 728.14h-4.2M109.6 693.26h-7.2M109.6 658.38h-4.2M109.6 623.50h-7.2M109.6 588.50h-4.2" stroke="#1c1c1c" stroke-width="2.0" fill="none"/>
<text x="96.0" y="977.49" font-size="17.0" text-anchor="end" fill="#4c4c4c" stroke="#4c4c4c" stroke-width="0.1">0</text>
<text x="96.0" y="907.73" font-size="17.0" text-anchor="end" fill="#4c4c4c" stroke="#4c4c4c" stroke-width="0.1">40</text>
<text x="96.0" y="837.97" font-size="17.0" text-anchor="end" fill="#4c4c4c" stroke="#4c4c4c" stroke-width="0.1">80</text>
<text x="96.0" y="768.21" font-size="17.0" text-anchor="end" fill="#4c4c4c" stroke="#4c4c4c" stroke-width="0.1">120</text>
<text x="96.0" y="698.45" font-size="17.0" text-anchor="end" fill="#4c4c4c" stroke="#4c4c4c" stroke-width="0.1">160</text>
<text x="96.0" y="628.69" font-size="17.0" text-anchor="end" fill="#4c4c4c" stroke="#4c4c4c" stroke-width="0.1">200</text>
<path d="M167.20 1008.0v8.6M224.24 1008.0v5M281.28 1008.0v8.6M338.32 1008.0v5M395.36 1008.0v8.6M452.40 1008.0v5M509.44 1008.0v8.6M566.48 1008.0v5M623.52 1008.0v8.6M109.6 1008.0v5M681.0 1008.0v5" stroke="#1c1c1c" stroke-width="2.0" fill="none"/>
<text x="166.60" y="1036.00" font-size="17.0" text-anchor="middle" fill="#4c4c4c" stroke="#4c4c4c" stroke-width="0.1">0</text>
<text x="280.68" y="1036.00" font-size="17.0" text-anchor="middle" fill="#4c4c4c" stroke="#4c4c4c" stroke-width="0.1">10</text>
<text x="394.76" y="1036.00" font-size="17.0" text-anchor="middle" fill="#4c4c4c" stroke="#4c4c4c" stroke-width="0.1">30</text>
<text x="508.84" y="1036.00" font-size="17.0" text-anchor="middle" fill="#4c4c4c" stroke="#4c4c4c" stroke-width="0.1">60</text>
<text x="622.92" y="1036.00" font-size="17.0" text-anchor="middle" fill="#4c4c4c" stroke="#4c4c4c" stroke-width="0.1">120</text>
<text x="270.0" y="1067.8" font-size="18.2" textLength="251.6" lengthAdjust="spacing" fill="#222" stroke="#222" stroke-width="0.3">Ozone treatment time (min)</text>
<text transform="translate(52.4 810.5) rotate(-90)" font-size="20.5" text-anchor="middle" fill="#222" stroke="#222" stroke-width="0.3">Survival fraction (%)</text>
<text x="125" y="626.8" font-size="26" font-weight="bold" textLength="35.5" lengthAdjust="spacingAndGlyphs" fill="#111">(B)</text>
<rect x="549.2" y="605.8" width="117.20" height="208.90" fill="#fff" stroke="#2a2a2a" stroke-width="1.2"/>
<rect x="554.6" y="611.20" width="44.50" height="21.2" fill="#fff" stroke="#1c1c1c" stroke-width="1.3"/>
<text x="606.2" y="627.90" font-size="19.4" letter-spacing="0.15" fill="#222" stroke="#222" stroke-width="0.3">CWM</text>
<rect x="554.6" y="636.32" width="44.50" height="21.2" fill="#fff" stroke="#1c1c1c" stroke-width="1.3"/>
<path d="M554.60 648.72L566.30 636.32M558.52 657.52L578.52 636.32M570.73 657.52L590.73 636.32M582.95 657.52L599.10 640.40M595.17 657.52L599.10 653.35" stroke="#1c1c1c" stroke-width="1.1" fill="none"/>
<text x="606.2" y="653.02" font-size="19.4" letter-spacing="0.15" fill="#222" stroke="#222" stroke-width="0.3">CWG</text>
<rect x="554.6" y="661.44" width="44.50" height="21.2" fill="#fff" stroke="#1c1c1c" stroke-width="1.3"/>
<path d="M554.60 670.34H599.10M554.60 678.74H599.10" stroke="#1c1c1c" stroke-width="1.1" fill="none"/>
<text x="606.2" y="678.14" font-size="19.4" letter-spacing="0.15" fill="#222" stroke="#222" stroke-width="0.3">CBM</text>
<rect x="554.6" y="686.56" width="44.50" height="21.2" fill="#fff" stroke="#1c1c1c" stroke-width="1.3"/>
<path d="M591.91 686.56L599.10 694.18M579.69 686.56L599.10 707.13M567.48 686.56L587.48 707.76M555.26 686.56L575.26 707.76M554.60 698.81L563.04 707.76" stroke="#1c1c1c" stroke-width="1.1" fill="none"/>
<text x="606.2" y="703.26" font-size="19.4" letter-spacing="0.15" fill="#222" stroke="#222" stroke-width="0.3">CBG</text>
<rect x="554.6" y="711.68" width="44.50" height="21.2" fill="#808080" stroke="#1c1c1c" stroke-width="1.3"/>
<text x="606.2" y="728.38" font-size="19.4" letter-spacing="0.15" fill="#222" stroke="#222" stroke-width="0.3">PWM</text>
<rect x="554.6" y="736.80" width="44.50" height="21.2" fill="#808080" stroke="#1c1c1c" stroke-width="1.3"/>
<path d="M554.60 749.20L566.30 736.80M558.52 758.00L578.52 736.80M570.73 758.00L590.73 736.80M582.95 758.00L599.10 740.88M595.17 758.00L599.10 753.83" stroke="#1c1c1c" stroke-width="1.1" fill="none"/>
<text x="606.2" y="753.50" font-size="19.4" letter-spacing="0.15" fill="#222" stroke="#222" stroke-width="0.3">PWG</text>
<rect x="554.6" y="761.92" width="44.50" height="21.2" fill="#808080" stroke="#1c1c1c" stroke-width="1.3"/>
<path d="M554.60 770.82H599.10M554.60 779.22H599.10" stroke="#1c1c1c" stroke-width="1.1" fill="none"/>
<text x="606.2" y="778.62" font-size="19.4" letter-spacing="0.15" fill="#222" stroke="#222" stroke-width="0.3">PBM</text>
<rect x="554.6" y="787.04" width="44.50" height="21.2" fill="#808080" stroke="#1c1c1c" stroke-width="1.3"/>
<path d="M591.91 787.04L599.10 794.66M579.69 787.04L599.10 807.61M567.48 787.04L587.48 808.24M555.26 787.04L575.26 808.24M554.60 799.29L563.04 808.24" stroke="#1c1c1c" stroke-width="1.1" fill="none"/>
<text x="606.2" y="803.74" font-size="19.4" letter-spacing="0.15" fill="#222" stroke="#222" stroke-width="0.3">PBG</text>
<text x="166.40" y="1216.10" font-size="17.0" text-anchor="middle" fill="#4c4c4c" stroke="#4c4c4c" stroke-width="0.1">0</text>
<text x="280.48" y="1216.10" font-size="17.0" text-anchor="middle" fill="#4c4c4c" stroke="#4c4c4c" stroke-width="0.1">10</text>
<text x="394.56" y="1216.10" font-size="17.0" text-anchor="middle" fill="#4c4c4c" stroke="#4c4c4c" stroke-width="0.1">30</text>
<text x="508.64" y="1216.10" font-size="17.0" text-anchor="middle" fill="#4c4c4c" stroke="#4c4c4c" stroke-width="0.1">60</text>
<text x="622.72" y="1216.10" font-size="17.0" text-anchor="middle" fill="#4c4c4c" stroke="#4c4c4c" stroke-width="0.1">120</text>
<rect x="235.60" y="1236.70" width="11.50" height="15.10" fill="#fff" stroke="#151515" stroke-width="1.3"/>
<rect x="247.10" y="1236.70" width="11.50" height="3.70" fill="#fff" stroke="#151515" stroke-width="1.3"/>
<path d="M256.87 1240.40L258.60 1238.88" stroke="#111" stroke-width="1.3" fill="none"/>
<rect x="258.60" y="1236.70" width="11.50" height="12.50" fill="#fff" stroke="#151515" stroke-width="1.3"/>
<path d="M258.60 1237.64H270.10M258.60 1246.20H270.10" stroke="#111" stroke-width="1.3" fill="none"/>
<rect x="270.10" y="1236.70" width="11.50" height="10.20" fill="#fff" stroke="#151515" stroke-width="1.3"/>
<path d="M270.10 1238.70L279.42 1246.90" stroke="#111" stroke-width="1.3" fill="none"/>
<rect x="281.60" y="1230.80" width="11.50" height="5.90" fill="#808080" stroke="#151515" stroke-width="1.3"/>
<rect x="293.10" y="1236.70" width="11.50" height="10.40" fill="#808080" stroke="#151515" stroke-width="1.3"/>
<path d="M295.26 1247.10L304.60 1238.88" stroke="#111" stroke-width="1.3" fill="none"/>
<rect x="304.60" y="1234.70" width="11.50" height="2.00" fill="#808080" stroke="#151515" stroke-width="1.3"/>
<rect x="316.10" y="1228.50" width="11.50" height="8.20" fill="#808080" stroke="#151515" stroke-width="1.3"/>
<path d="M319.74 1228.50L327.60 1235.42" stroke="#111" stroke-width="1.3" fill="none"/>
<path d="M241.35 1225.90V1279.30M236.95 1225.90h8.8M236.95 1279.30h8.8" stroke="#1e1e1e" stroke-width="1.1" fill="none"/>
<path d="M252.85 1223.80V1256.20M248.45 1223.80h8.8M248.45 1256.20h8.8" stroke="#1e1e1e" stroke-width="1.1" fill="none"/>
<path d="M264.35 1227.00V1272.00M259.95 1227.00h8.8M259.95 1272.00h8.8" stroke="#1e1e1e" stroke-width="1.1" fill="none"/>
<path d="M275.85 1219.40V1276.70M271.45 1219.40h8.8M271.45 1276.70h8.8" stroke="#1e1e1e" stroke-width="1.1" fill="none"/>
<path d="M287.35 1206.30V1252.70M282.95 1206.30h8.8M282.95 1252.70h8.8" stroke="#1e1e1e" stroke-width="1.1" fill="none"/>
<path d="M298.85 1225.90V1269.00M294.45 1225.90h8.8M294.45 1269.00h8.8" stroke="#1e1e1e" stroke-width="1.1" fill="none"/>
<path d="M310.35 1214.70V1254.10M305.95 1214.70h8.8M305.95 1254.10h8.8" stroke="#1e1e1e" stroke-width="1.1" fill="none"/>
<path d="M321.85 1204.50V1251.80M317.45 1204.50h8.8M317.45 1251.80h8.8" stroke="#1e1e1e" stroke-width="1.1" fill="none"/>
<rect x="349.90" y="1236.70" width="11.50" height="171.60" fill="#fff" stroke="#151515" stroke-width="1.3"/>
<rect x="361.40" y="1236.70" width="11.50" height="165.90" fill="#fff" stroke="#151515" stroke-width="1.3"/>
<path d="M361.40 1249.00L372.90 1238.88M361.40 1262.40L372.90 1252.28M361.40 1275.80L372.90 1265.68M361.40 1289.20L372.90 1279.08M361.40 1302.60L372.90 1292.48M361.40 1316.00L372.90 1305.88M361.40 1329.40L372.90 1319.28M361.40 1342.80L372.90 1332.68M361.40 1356.20L372.90 1346.08M361.40 1369.60L372.90 1359.48M361.40 1383.00L372.90 1372.88M361.40 1396.40L372.90 1386.28M369.58 1402.60L372.90 1399.68" stroke="#111" stroke-width="1.3" fill="none"/>
<rect x="372.90" y="1236.70" width="11.50" height="168.10" fill="#fff" stroke="#151515" stroke-width="1.3"/>
<path d="M372.90 1237.64H384.40M372.90 1246.20H384.40M372.90 1254.76H384.40M372.90 1263.32H384.40M372.90 1271.88H384.40M372.90 1280.44H384.40M372.90 1289.00H384.40M372.90 1297.56H384.40M372.90 1306.12H384.40M372.90 1314.68H384.40M372.90 1323.24H384.40M372.90 1331.80H384.40M372.90 1340.36H384.40M372.90 1348.92H384.40M372.90 1357.48H384.40M372.90 1366.04H384.40M372.90 1374.60H384.40M372.90 1383.16H384.40M372.90 1391.72H384.40M372.90 1400.28H384.40" stroke="#111" stroke-width="1.3" fill="none"/>
<rect x="384.40" y="1236.70" width="11.50" height="163.40" fill="#fff" stroke="#151515" stroke-width="1.3"/>
<path d="M384.40 1238.70L395.90 1248.82M384.40 1252.10L395.90 1262.22M384.40 1265.50L395.90 1275.62M384.40 1278.90L395.90 1289.02M384.40 1292.30L395.90 1302.42M384.40 1305.70L395.90 1315.82M384.40 1319.10L395.90 1329.22M384.40 1332.50L395.90 1342.62M384.40 1345.90L395.90 1356.02M384.40 1359.30L395.90 1369.42M384.40 1372.70L395.90 1382.82M384.40 1386.10L395.90 1396.22M384.40 1399.50L385.08 1400.10" stroke="#111" stroke-width="1.3" fill="none"/>
<rect x="395.90" y="1236.70" width="11.50" height="142.40" fill="#808080" stroke="#151515" stroke-width="1.3"/>
<rect x="407.40" y="1236.70" width="11.50" height="163.70" fill="#808080" stroke="#151515" stroke-width="1.3"/>
<path d="M407.40 1249.00L418.90 1238.88M407.40 1262.40L418.90 1252.28M407.40 1275.80L418.90 1265.68M407.40 1289.20L418.90 1279.08M407.40 1302.60L418.90 1292.48M407.40 1316.00L418.90 1305.88M407.40 1329.40L418.90 1319.28M407.40 1342.80L418.90 1332.68M407.40 1356.20L418.90 1346.08M407.40 1369.60L418.90 1359.48M407.40 1383.00L418.90 1372.88M407.40 1396.40L418.90 1386.28M418.08 1400.40L418.90 1399.68" stroke="#111" stroke-width="1.3" fill="none"/>
<rect x="418.90" y="1236.70" width="11.50" height="133.10" fill="#808080" stroke="#151515" stroke-width="1.3"/>
<path d="M418.90 1237.64H430.40M418.90 1246.20H430.40M418.90 1254.76H430.40M418.90 1263.32H430.40M418.90 1271.88H430.40M418.90 1280.44H430.40M418.90 1289.00H430.40M418.90 1297.56H430.40M418.90 1306.12H430.40M418.90 1314.68H430.40M418.90 1323.24H430.40M418.90 1331.80H430.40M418.90 1340.36H430.40M418.90 1348.92H430.40M418.90 1357.48H430.40M418.90 1366.04H430.40" stroke="#111" stroke-width="1.3" fill="none"/>
<rect x="430.40" y="1236.70" width="11.50" height="136.60" fill="#808080" stroke="#151515" stroke-width="1.3"/>
<path d="M430.40 1238.70L441.90 1248.82M430.40 1252.10L441.90 1262.22M430.40 1265.50L441.90 1275.62M430.40 1278.90L441.90 1289.02M430.40 1292.30L441.90 1302.42M430.40 1305.70L441.90 1315.82M430.40 1319.10L441.90 1329.22M430.40 1332.50L441.90 1342.62M430.40 1345.90L441.90 1356.02M430.40 1359.30L441.90 1369.42M430.40 1372.70L431.08 1373.30" stroke="#111" stroke-width="1.3" fill="none"/>
<path d="M355.65 1382.40V1435.50M351.25 1382.40h8.8M351.25 1435.50h8.8" stroke="#1e1e1e" stroke-width="1.1" fill="none"/>
<path d="M367.15 1389.10V1416.20M362.75 1389.10h8.8M362.75 1416.20h8.8" stroke="#1e1e1e" stroke-width="1.1" fill="none"/>
<path d="M378.65 1379.80V1429.70M374.25 1379.80h8.8M374.25 1429.70h8.8" stroke="#1e1e1e" stroke-width="1.1" fill="none"/>
<path d="M390.15 1379.80V1421.00M385.75 1379.80h8.8M385.75 1421.00h8.8" stroke="#1e1e1e" stroke-width="1.1" fill="none"/>
<path d="M401.65 1344.90V1413.10M397.25 1344.90h8.8M397.25 1413.10h8.8" stroke="#1e1e1e" stroke-width="1.1" fill="none"/>
<path d="M413.15 1362.30V1440.20M408.75 1362.30h8.8M408.75 1440.20h8.8" stroke="#1e1e1e" stroke-width="1.1" fill="none"/>
<path d="M424.65 1331.60V1407.50M420.25 1331.60h8.8M420.25 1407.50h8.8" stroke="#1e1e1e" stroke-width="1.1" fill="none"/>
<path d="M436.15 1350.50V1397.30M431.75 1350.50h8.8M431.75 1397.30h8.8" stroke="#1e1e1e" stroke-width="1.1" fill="none"/>
<rect x="464.20" y="1236.70" width="11.50" height="172.00" fill="#fff" stroke="#151515" stroke-width="1.3"/>
<rect x="475.70" y="1236.70" width="11.50" height="155.50" fill="#fff" stroke="#151515" stroke-width="1.3"/>
<path d="M475.70 1249.00L487.20 1238.88M475.70 1262.40L487.20 1252.28M475.70 1275.80L487.20 1265.68M475.70 1289.20L487.20 1279.08M475.70 1302.60L487.20 1292.48M475.70 1316.00L487.20 1305.88M475.70 1329.40L487.20 1319.28M475.70 1342.80L487.20 1332.68M475.70 1356.20L487.20 1346.08M475.70 1369.60L487.20 1359.48M475.70 1383.00L487.20 1372.88M480.47 1392.20L487.20 1386.28" stroke="#111" stroke-width="1.3" fill="none"/>
<rect x="487.20" y="1236.70" width="11.50" height="178.30" fill="#fff" stroke="#151515" stroke-width="1.3"/>
<path d="M487.20 1237.64H498.70M487.20 1246.20H498.70M487.20 1254.76H498.70M487.20 1263.32H498.70M487.20 1271.88H498.70M487.20 1280.44H498.70M487.20 1289.00H498.70M487.20 1297.56H498.70M487.20 1306.12H498.70M487.20 1314.68H498.70M487.20 1323.24H498.70M487.20 1331.80H498.70M487.20 1340.36H498.70M487.20 1348.92H498.70M487.20 1357.48H498.70M487.20 1366.04H498.70M487.20 1374.60H498.70M487.20 1383.16H498.70M487.20 1391.72H498.70M487.20 1400.28H498.70M487.20 1408.84H498.70" stroke="#111" stroke-width="1.3" fill="none"/>
<rect x="498.70" y="1236.70" width="11.50" height="170.80" fill="#fff" stroke="#151515" stroke-width="1.3"/>
<path d="M498.70 1238.70L510.20 1248.82M498.70 1252.10L510.20 1262.22M498.70 1265.50L510.20 1275.62M498.70 1278.90L510.20 1289.02M498.70 1292.30L510.20 1302.42M498.70 1305.70L510.20 1315.82M498.70 1319.10L510.20 1329.22M498.70 1332.50L510.20 1342.62M498.70 1345.90L510.20 1356.02M498.70 1359.30L510.20 1369.42M498.70 1372.70L510.20 1382.82M498.70 1386.10L510.20 1396.22M498.70 1399.50L507.79 1407.50" stroke="#111" stroke-width="1.3" fill="none"/>
<rect x="510.20" y="1236.70" width="11.50" height="133.10" fill="#808080" stroke="#151515" stroke-width="1.3"/>
<rect x="521.70" y="1236.70" width="11.50" height="161.60" fill="#808080" stroke="#151515" stroke-width="1.3"/>
<path d="M521.70 1249.00L533.20 1238.88M521.70 1262.40L533.20 1252.28M521.70 1275.80L533.20 1265.68M521.70 1289.20L533.20 1279.08M521.70 1302.60L533.20 1292.48M521.70 1316.00L533.20 1305.88M521.70 1329.40L533.20 1319.28M521.70 1342.80L533.20 1332.68M521.70 1356.20L533.20 1346.08M521.70 1369.60L533.20 1359.48M521.70 1383.00L533.20 1372.88M521.70 1396.40L533.20 1386.28" stroke="#111" stroke-width="1.3" fill="none"/>
<rect x="533.20" y="1236.70" width="11.50" height="134.80" fill="#808080" stroke="#151515" stroke-width="1.3"/>
<path d="M533.20 1237.64H544.70M533.20 1246.20H544.70M533.20 1254.76H544.70M533.20 1263.32H544.70M533.20 1271.88H544.70M533.20 1280.44H544.70M533.20 1289.00H544.70M533.20 1297.56H544.70M533.20 1306.12H544.70M533.20 1314.68H544.70M533.20 1323.24H544.70M533.20 1331.80H544.70M533.20 1340.36H544.70M533.20 1348.92H544.70M533.20 1357.48H544.70M533.20 1366.04H544.70" stroke="#111" stroke-width="1.3" fill="none"/>
<rect x="544.70" y="1236.70" width="11.50" height="146.80" fill="#808080" stroke="#151515" stroke-width="1.3"/>
<path d="M544.70 1238.70L556.20 1248.82M544.70 1252.10L556.20 1262.22M544.70 1265.50L556.20 1275.62M544.70 1278.90L556.20 1289.02M544.70 1292.30L556.20 1302.42M544.70 1305.70L556.20 1315.82M544.70 1319.10L556.20 1329.22M544.70 1332.50L556.20 1342.62M544.70 1345.90L556.20 1356.02M544.70 1359.30L556.20 1369.42M544.70 1372.70L556.20 1382.82" stroke="#111" stroke-width="1.3" fill="none"/>
<path d="M469.95 1404.00V1413.10M465.55 1404.00h8.8M465.55 1413.10h8.8" stroke="#1e1e1e" stroke-width="1.1" fill="none"/>
<path d="M481.45 1387.30V1396.90M477.05 1387.30h8.8M477.05 1396.90h8.8" stroke="#1e1e1e" stroke-width="1.1" fill="none"/>
<path d="M492.95 1372.40V1458.30M488.55 1372.40h8.8M488.55 1458.30h8.8" stroke="#1e1e1e" stroke-width="1.1" fill="none"/>
<path d="M504.45 1384.70V1429.70M500.05 1384.70h8.8M500.05 1429.70h8.8" stroke="#1e1e1e" stroke-width="1.1" fill="none"/>
<path d="M515.95 1365.40V1373.30M511.55 1365.40h8.8M511.55 1373.30h8.8" stroke="#1e1e1e" stroke-width="1.1" fill="none"/>
<path d="M527.45 1377.70V1419.70M523.05 1377.70h8.8M523.05 1419.70h8.8" stroke="#1e1e1e" stroke-width="1.1" fill="none"/>
<path d="M538.95 1369.80V1374.20M534.55 1369.80h8.8M534.55 1374.20h8.8" stroke="#1e1e1e" stroke-width="1.1" fill="none"/>
<path d="M550.45 1364.20V1403.10M546.05 1364.20h8.8M546.05 1403.10h8.8" stroke="#1e1e1e" stroke-width="1.1" fill="none"/>
<rect x="578.50" y="1236.70" width="11.50" height="222.90" fill="#fff" stroke="#151515" stroke-width="1.3"/>
<rect x="590.00" y="1236.70" width="11.50" height="206.60" fill="#fff" stroke="#151515" stroke-width="1.3"/>
<path d="M590.00 1249.00L601.50 1238.88M590.00 1262.40L601.50 1252.28M590.00 1275.80L601.50 1265.68M590.00 1289.20L601.50 1279.08M590.00 1302.60L601.50 1292.48M590.00 1316.00L601.50 1305.88M590.00 1329.40L601.50 1319.28M590.00 1342.80L601.50 1332.68M590.00 1356.20L601.50 1346.08M590.00 1369.60L601.50 1359.48M590.00 1383.00L601.50 1372.88M590.00 1396.40L601.50 1386.28M590.00 1409.80L601.50 1399.68M590.00 1423.20L601.50 1413.08M590.00 1436.60L601.50 1426.48M597.61 1443.30L601.50 1439.88" stroke="#111" stroke-width="1.3" fill="none"/>
<rect x="601.50" y="1236.70" width="11.50" height="200.50" fill="#fff" stroke="#151515" stroke-width="1.3"/>
<path d="M601.50 1237.64H613.00M601.50 1246.20H613.00M601.50 1254.76H613.00M601.50 1263.32H613.00M601.50 1271.88H613.00M601.50 1280.44H613.00M601.50 1289.00H613.00M601.50 1297.56H613.00M601.50 1306.12H613.00M601.50 1314.68H613.00M601.50 1323.24H613.00M601.50 1331.80H613.00M601.50 1340.36H613.00M601.50 1348.92H613.00M601.50 1357.48H613.00M601.50 1366.04H613.00M601.50 1374.60H613.00M601.50 1383.16H613.00M601.50 1391.72H613.00M601.50 1400.28H613.00M601.50 1408.84H613.00M601.50 1417.40H613.00M601.50 1425.96H613.00M601.50 1434.52H613.00" stroke="#111" stroke-width="1.3" fill="none"/>
<rect x="613.00" y="1236.70" width="11.50" height="260.10" fill="#fff" stroke="#151515" stroke-width="1.3"/>
<path d="M613.00 1238.70L624.50 1248.82M613.00 1252.10L624.50 1262.22M613.00 1265.50L624.50 1275.62M613.00 1278.90L624.50 1289.02M613.00 1292.30L624.50 1302.42M613.00 1305.70L624.50 1315.82M613.00 1319.10L624.50 1329.22M613.00 1332.50L624.50 1342.62M613.00 1345.90L624.50 1356.02M613.00 1359.30L624.50 1369.42M613.00 1372.70L624.50 1382.82M613.00 1386.10L624.50 1396.22M613.00 1399.50L624.50 1409.62M613.00 1412.90L624.50 1423.02M613.00 1426.30L624.50 1436.42M613.00 1439.70L624.50 1449.82M613.00 1453.10L624.50 1463.22M613.00 1466.50L624.50 1476.62M613.00 1479.90L624.50 1490.02M613.00 1493.30L616.98 1496.80" stroke="#111" stroke-width="1.3" fill="none"/>
<rect x="624.50" y="1236.70" width="11.50" height="176.50" fill="#808080" stroke="#151515" stroke-width="1.3"/>
<rect x="636.00" y="1236.70" width="11.50" height="267.90" fill="#808080" stroke="#151515" stroke-width="1.3"/>
<path d="M636.00 1249.00L647.50 1238.88M636.00 1262.40L647.50 1252.28M636.00 1275.80L647.50 1265.68M636.00 1289.20L647.50 1279.08M636.00 1302.60L647.50 1292.48M636.00 1316.00L647.50 1305.88M636.00 1329.40L647.50 1319.28M636.00 1342.80L647.50 1332.68M636.00 1356.20L647.50 1346.08M636.00 1369.60L647.50 1359.48M636.00 1383.00L647.50 1372.88M636.00 1396.40L647.50 1386.28M636.00 1409.80L647.50 1399.68M636.00 1423.20L647.50 1413.08M636.00 1436.60L647.50 1426.48M636.00 1450.00L647.50 1439.88M636.00 1463.40L647.50 1453.28M636.00 1476.80L647.50 1466.68M636.00 1490.20L647.50 1480.08M636.00 1503.60L647.50 1493.48" stroke="#111" stroke-width="1.3" fill="none"/>
<rect x="647.50" y="1236.70" width="11.50" height="201.20" fill="#808080" stroke="#151515" stroke-width="1.3"/>
<path d="M647.50 1237.64H659.00M647.50 1246.20H659.00M647.50 1254.76H659.00M647.50 1263.32H659.00M647.50 1271.88H659.00M647.50 1280.44H659.00M647.50 1289.00H659.00M647.50 1297.56H659.00M647.50 1306.12H659.00M647.50 1314.68H659.00M647.50 1323.24H659.00M647.50 1331.80H659.00M647.50 1340.36H659.00M647.50 1348.92H659.00M647.50 1357.48H659.00M647.50 1366.04H659.00M647.50 1374.60H659.00M647.50 1383.16H659.00M647.50 1391.72H659.00M647.50 1400.28H659.00M647.50 1408.84H659.00M647.50 1417.40H659.00M647.50 1425.96H659.00M647.50 1434.52H659.00" stroke="#111" stroke-width="1.3" fill="none"/>
<rect x="659.00" y="1236.70" width="11.50" height="243.10" fill="#808080" stroke="#151515" stroke-width="1.3"/>
<path d="M659.00 1238.70L670.50 1248.82M659.00 1252.10L670.50 1262.22M659.00 1265.50L670.50 1275.62M659.00 1278.90L670.50 1289.02M659.00 1292.30L670.50 1302.42M659.00 1305.70L670.50 1315.82M659.00 1319.10L670.50 1329.22M659.00 1332.50L670.50 1342.62M659.00 1345.90L670.50 1356.02M659.00 1359.30L670.50 1369.42M659.00 1372.70L670.50 1382.82M659.00 1386.10L670.50 1396.22M659.00 1399.50L670.50 1409.62M659.00 1412.90L670.50 1423.02M659.00 1426.30L670.50 1436.42M659.00 1439.70L670.50 1449.82M659.00 1453.10L670.50 1463.22M659.00 1466.50L670.50 1476.62" stroke="#111" stroke-width="1.3" fill="none"/>
<path d="M584.25 1440.30V1479.80M579.85 1440.30h8.8M579.85 1479.80h8.8" stroke="#1e1e1e" stroke-width="1.1" fill="none"/>
<path d="M595.75 1413.90V1473.20M591.35 1413.90h8.8M591.35 1473.20h8.8" stroke="#1e1e1e" stroke-width="1.1" fill="none"/>
<path d="M607.25 1415.50V1459.60M602.85 1415.50h8.8M602.85 1459.60h8.8" stroke="#1e1e1e" stroke-width="1.1" fill="none"/>
<path d="M618.75 1457.20V1538.00M614.35 1457.20h8.8M614.35 1538.00h8.8" stroke="#1e1e1e" stroke-width="1.1" fill="none"/>
<path d="M630.25 1393.90V1432.00M625.85 1393.90h8.8M625.85 1432.00h8.8" stroke="#1e1e1e" stroke-width="1.1" fill="none"/>
<path d="M641.75 1450.40V1559.20M637.35 1450.40h8.8M637.35 1559.20h8.8" stroke="#1e1e1e" stroke-width="1.1" fill="none"/>
<path d="M653.25 1409.20V1467.30M648.85 1409.20h8.8M648.85 1467.30h8.8" stroke="#1e1e1e" stroke-width="1.1" fill="none"/>
<path d="M664.75 1435.50V1525.50M660.35 1435.50h8.8M660.35 1525.50h8.8" stroke="#1e1e1e" stroke-width="1.1" fill="none"/>
<path d="M109.6 1172.08V1591.7M108.8 1236.7H681.8" stroke="#1c1c1c" stroke-width="2.0" fill="none"/>
<path d="M109.6 1591.70h-4.2M109.6 1559.83h-7.2M109.6 1527.51h-4.2M109.6 1495.20h-7.2M109.6 1462.89h-4.2M109.6 1430.58h-7.2M109.6 1398.26h-4.2M109.6 1365.95h-7.2M109.6 1333.64h-4.2M109.6 1301.33h-7.2M109.6 1269.01h-4.2M109.6 1236.70h-7.2M109.6 1204.39h-4.2M109.6 1172.08h-7.2" stroke="#1c1c1c" stroke-width="2.0" fill="none"/>
<text x="95.4" y="1176.96" font-size="17.0" text-anchor="end" fill="#4c4c4c" stroke="#4c4c4c" stroke-width="0.1">0.5</text>
<text x="95.4" y="1241.59" font-size="17.0" text-anchor="end" fill="#4c4c4c" stroke="#4c4c4c" stroke-width="0.1">0.0</text>
<text x="95.4" y="1306.21" font-size="17.0" text-anchor="end" fill="#4c4c4c" stroke="#4c4c4c" stroke-width="0.1">-0.5</text>
<text x="95.4" y="1370.84" font-size="17.0" text-anchor="end" fill="#4c4c4c" stroke="#4c4c4c" stroke-width="0.1">-1.0</text>
<text x="95.4" y="1435.46" font-size="17.0" text-anchor="end" fill="#4c4c4c" stroke="#4c4c4c" stroke-width="0.1">-1.5</text>
<text x="95.4" y="1500.09" font-size="17.0" text-anchor="end" fill="#4c4c4c" stroke="#4c4c4c" stroke-width="0.1">-2.0</text>
<text x="95.4" y="1564.71" font-size="17.0" text-anchor="end" fill="#4c4c4c" stroke="#4c4c4c" stroke-width="0.1">-2.5</text>
<path d="M167.20 1236.7v8.6M224.24 1236.7v5M281.28 1236.7v8.6M338.32 1236.7v5M395.36 1236.7v8.6M452.40 1236.7v5M509.44 1236.7v8.6M566.48 1236.7v5M623.52 1236.7v8.6M681.0 1236.7v5" stroke="#1c1c1c" stroke-width="2.0" fill="none"/>
<text x="282.6" y="1159.0" font-size="18.0" textLength="250.4" lengthAdjust="spacing" fill="#222" stroke="#222" stroke-width="0.3">Ozone treatment time (min)</text>
<text transform="translate(51.6 1396) rotate(-90)" font-size="19.6" text-anchor="middle" fill="#222" stroke="#222" stroke-width="0.3">LR</text>
<text x="125" y="1186.2" font-size="26" font-weight="bold" textLength="35.6" lengthAdjust="spacingAndGlyphs" fill="#111">(C)</text>
<rect x="144.9" y="1366.4" width="118.70" height="206.50" fill="#fff" stroke="#2a2a2a" stroke-width="1.2"/>
<rect x="150.5" y="1371.00" width="45.70" height="21.4" fill="#fff" stroke="#1c1c1c" stroke-width="1.3"/>
<text x="202.3" y="1387.80" font-size="18.4" letter-spacing="1.3" fill="#222" stroke="#222" stroke-width="0.3">CWM</text>
<rect x="150.5" y="1396.27" width="45.70" height="21.4" fill="#fff" stroke="#1c1c1c" stroke-width="1.3"/>
<path d="M150.50 1408.87L162.44 1396.27M154.39 1417.67L174.67 1396.27M166.61 1417.67L186.90 1396.27M178.84 1417.67L196.20 1399.36M191.07 1417.67L196.20 1412.26" stroke="#1c1c1c" stroke-width="1.1" fill="none"/>
<text x="202.3" y="1413.07" font-size="18.4" letter-spacing="1.3" fill="#222" stroke="#222" stroke-width="0.3">CWG</text>
<rect x="150.5" y="1421.54" width="45.70" height="21.4" fill="#fff" stroke="#1c1c1c" stroke-width="1.3"/>
<path d="M150.50 1422.44H196.20M150.50 1430.94H196.20M150.50 1439.44H196.20" stroke="#1c1c1c" stroke-width="1.1" fill="none"/>
<text x="202.3" y="1438.34" font-size="18.4" letter-spacing="1.3" fill="#222" stroke="#222" stroke-width="0.3">CBM</text>
<rect x="150.5" y="1446.81" width="45.70" height="21.4" fill="#fff" stroke="#1c1c1c" stroke-width="1.3"/>
<path d="M188.13 1446.81L196.20 1455.32M175.90 1446.81L196.19 1468.21M163.68 1446.81L183.96 1468.21M151.45 1446.81L171.73 1468.21M150.50 1458.71L159.50 1468.21" stroke="#1c1c1c" stroke-width="1.1" fill="none"/>
<text x="202.3" y="1463.61" font-size="18.4" letter-spacing="1.3" fill="#222" stroke="#222" stroke-width="0.3">CBG</text>
<rect x="150.5" y="1472.08" width="45.70" height="21.4" fill="#808080" stroke="#1c1c1c" stroke-width="1.3"/>
<text x="202.3" y="1488.88" font-size="18.4" letter-spacing="1.3" fill="#222" stroke="#222" stroke-width="0.3">PWM</text>
<rect x="150.5" y="1497.35" width="45.70" height="21.4" fill="#808080" stroke="#1c1c1c" stroke-width="1.3"/>
<path d="M150.50 1509.95L162.44 1497.35M154.39 1518.75L174.67 1497.35M166.61 1518.75L186.90 1497.35M178.84 1518.75L196.20 1500.44M191.07 1518.75L196.20 1513.34" stroke="#1c1c1c" stroke-width="1.1" fill="none"/>
<text x="202.3" y="1514.15" font-size="18.4" letter-spacing="1.3" fill="#222" stroke="#222" stroke-width="0.3">PWG</text>
<rect x="150.5" y="1522.62" width="45.70" height="21.4" fill="#808080" stroke="#1c1c1c" stroke-width="1.3"/>
<path d="M150.50 1530.42H196.20M150.50 1539.12H196.20" stroke="#1c1c1c" stroke-width="1.1" fill="none"/>
<text x="202.3" y="1539.42" font-size="18.4" letter-spacing="1.3" fill="#222" stroke="#222" stroke-width="0.3">PBM</text>
<rect x="150.5" y="1547.89" width="45.70" height="21.4" fill="#808080" stroke="#1c1c1c" stroke-width="1.3"/>
<path d="M188.13 1547.89L196.20 1556.40M175.90 1547.89L196.19 1569.29M163.68 1547.89L183.96 1569.29M151.45 1547.89L171.73 1569.29M150.50 1559.79L159.50 1569.29" stroke="#1c1c1c" stroke-width="1.1" fill="none"/>
<text x="202.3" y="1564.69" font-size="18.4" letter-spacing="1.3" fill="#222" stroke="#222" stroke-width="0.3">PBG</text>
</svg></body></html>
